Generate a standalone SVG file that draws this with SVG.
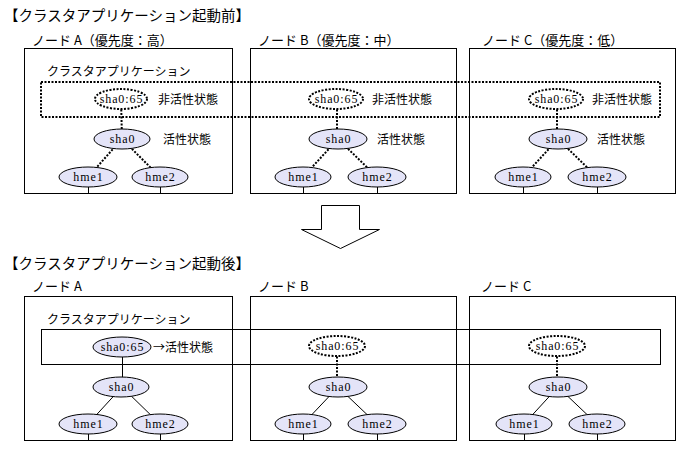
<svg xmlns="http://www.w3.org/2000/svg" width="683" height="449" viewBox="0 0 683 449">
<style>
.bg{fill:#ffffff}
.box{fill:none;stroke:#000;stroke-width:1}
.clusterD{fill:none;stroke:#000;stroke-width:2;stroke-dasharray:2 1.5}
.clusterS{fill:none;stroke:#000;stroke-width:1}
.ell{fill:#e4e4f8;stroke:#000;stroke-width:1}
.ellD{fill:#ffffff;stroke:#000;stroke-width:2;stroke-dasharray:2 1.5}
.ln{stroke:#000;stroke-width:1;fill:none}
.lnD{stroke:#000;stroke-width:2;stroke-dasharray:2 1.5;fill:none}
.jp{font-family:"Noto Sans CJK JP","Noto Sans",sans-serif;fill:#000}
.t14{font-size:14.5px}
.t13{font-size:13px}
.t12{font-size:12px}
.lat{font-family:"Liberation Serif","DejaVu Serif",serif;font-size:12px;fill:#000;text-anchor:middle;letter-spacing:0.9px}
.arrow{fill:#fff;stroke:#000;stroke-width:1}
</style>
<rect class="bg" x="0" y="0" width="683" height="449"/>

<!-- Titles -->
<text class="jp t14" x="4" y="21">【クラスタアプリケーション起動前】</text>
<text class="jp t14" x="4" y="269">【クラスタアプリケーション起動後】</text>

<!-- Connectors -->
<g id="connectors">
  <!-- top A -->
  <line class="lnD" x1="121" y1="99" x2="122" y2="139"/>
  <line class="lnD" x1="122" y1="139" x2="88" y2="177"/>
  <line class="lnD" x1="122" y1="139" x2="160" y2="177"/>
  <line class="ln" x1="88.5" y1="177" x2="88.5" y2="194"/>
  <line class="ln" x1="160.5" y1="177" x2="160.5" y2="194"/>
  <!-- top B -->
  <line class="lnD" x1="337" y1="99" x2="337" y2="139"/>
  <line class="lnD" x1="338" y1="139" x2="303" y2="177"/>
  <line class="lnD" x1="338" y1="139" x2="377" y2="177"/>
  <line class="ln" x1="303.5" y1="177" x2="303.5" y2="194"/>
  <line class="ln" x1="377.5" y1="177" x2="377.5" y2="194"/>
  <!-- top C -->
  <line class="lnD" x1="557" y1="99" x2="557" y2="139"/>
  <line class="lnD" x1="558" y1="139" x2="523" y2="177"/>
  <line class="lnD" x1="558" y1="139" x2="597" y2="177"/>
  <line class="ln" x1="523.5" y1="177" x2="523.5" y2="194"/>
  <line class="ln" x1="597.5" y1="177" x2="597.5" y2="194"/>
  <!-- bottom A -->
  <line class="ln" x1="122.5" y1="347" x2="122.5" y2="387"/>
  <line class="ln" x1="122" y1="387" x2="88" y2="424"/>
  <line class="ln" x1="122" y1="387" x2="160" y2="424"/>
  <line class="ln" x1="88.5" y1="424" x2="88.5" y2="441"/>
  <line class="ln" x1="160.5" y1="424" x2="160.5" y2="441"/>
  <!-- bottom B -->
  <line class="lnD" x1="337" y1="346" x2="337" y2="387"/>
  <line class="ln" x1="338" y1="387" x2="303" y2="424"/>
  <line class="ln" x1="338" y1="387" x2="377" y2="424"/>
  <line class="ln" x1="303.5" y1="424" x2="303.5" y2="441"/>
  <line class="ln" x1="377.5" y1="424" x2="377.5" y2="441"/>
  <!-- bottom C -->
  <line class="lnD" x1="557" y1="346" x2="557" y2="387"/>
  <line class="ln" x1="558" y1="387" x2="524" y2="424"/>
  <line class="ln" x1="558" y1="387" x2="597" y2="424"/>
  <line class="ln" x1="524.5" y1="424" x2="524.5" y2="441"/>
  <line class="ln" x1="597.5" y1="424" x2="597.5" y2="441"/>
</g>

<!-- Top section boxes -->
<g id="nodeA-before">
  <rect class="box" x="24.5" y="48.5" width="208" height="145"/>
  <text class="jp t13" x="32" y="45">ノード A（優先度：高）</text>
</g>
<g id="nodeB-before">
  <rect class="box" x="250.5" y="48.5" width="206" height="145"/>
  <text class="jp t13" x="258" y="45">ノード B（優先度：中）</text>
</g>
<g id="nodeC-before">
  <rect class="box" x="469.5" y="48.5" width="206" height="145"/>
  <text class="jp t13" x="482" y="45">ノード C（優先度：低）</text>
</g>
<g id="cluster-before">
  <rect class="clusterD" x="41" y="82" width="619" height="35"/>
  <text class="jp t12" x="47" y="76">クラスタアプリケーション</text>
</g>

<!-- Top ellipses A -->
<g id="A1-sha065"><ellipse class="ellD" cx="121" cy="99" rx="26" ry="10"/><text class="lat" x="121.5" y="103">sha0:65</text></g>
<text class="jp t12" x="158" y="104">非活性状態</text>
<g id="A1-sha0"><ellipse class="ell" cx="122" cy="139" rx="28" ry="10"/><text class="lat" x="122.5" y="143">sha0</text></g>
<text class="jp t12" x="163" y="144">活性状態</text>
<g id="A1-hme1"><ellipse class="ell" cx="88" cy="177" rx="29" ry="10"/><text class="lat" x="88.5" y="181">hme1</text></g>
<g id="A1-hme2"><ellipse class="ell" cx="160" cy="177" rx="28" ry="10"/><text class="lat" x="160.5" y="181">hme2</text></g>

<!-- Top ellipses B -->
<g id="B1-sha065"><ellipse class="ellD" cx="336" cy="99" rx="27" ry="10"/><text class="lat" x="336.5" y="103">sha0:65</text></g>
<text class="jp t12" x="372" y="104">非活性状態</text>
<g id="B1-sha0"><ellipse class="ell" cx="338" cy="139" rx="29" ry="10"/><text class="lat" x="338.5" y="143">sha0</text></g>
<text class="jp t12" x="377" y="144">活性状態</text>
<g id="B1-hme1"><ellipse class="ell" cx="303" cy="177" rx="28" ry="10"/><text class="lat" x="303.5" y="181">hme1</text></g>
<g id="B1-hme2"><ellipse class="ell" cx="377" cy="177" rx="29" ry="10"/><text class="lat" x="377.5" y="181">hme2</text></g>

<!-- Top ellipses C -->
<g id="C1-sha065"><ellipse class="ellD" cx="556" cy="99" rx="27" ry="10"/><text class="lat" x="556.5" y="103">sha0:65</text></g>
<text class="jp t12" x="592" y="104">非活性状態</text>
<g id="C1-sha0"><ellipse class="ell" cx="558" cy="139" rx="29" ry="10"/><text class="lat" x="558.5" y="143">sha0</text></g>
<text class="jp t12" x="597" y="144">活性状態</text>
<g id="C1-hme1"><ellipse class="ell" cx="523" cy="177" rx="28" ry="10"/><text class="lat" x="523.5" y="181">hme1</text></g>
<g id="C1-hme2"><ellipse class="ell" cx="597" cy="177" rx="29" ry="10"/><text class="lat" x="597.5" y="181">hme2</text></g>

<!-- Transition arrow -->
<g id="transition-arrow">
  <polygon class="arrow" points="321.5,205.5 359.5,205.5 359.5,229.5 379.5,229.5 340.5,248.5 301.5,229.5 321.5,229.5"/>
</g>

<!-- Bottom section boxes -->
<g id="nodeA-after">
  <rect class="box" x="24.5" y="296.5" width="208" height="144"/>
  <text class="jp t13" x="32" y="291">ノード A</text>
</g>
<g id="nodeB-after">
  <rect class="box" x="250.5" y="296.5" width="206" height="144"/>
  <text class="jp t13" x="258" y="291">ノード B</text>
</g>
<g id="nodeC-after">
  <rect class="box" x="469.5" y="296.5" width="206" height="144"/>
  <text class="jp t13" x="481" y="291">ノード C</text>
</g>
<g id="cluster-after">
  <rect class="clusterS" x="41.5" y="329.5" width="619" height="35"/>
  <text class="jp t12" x="47" y="324">クラスタアプリケーション</text>
</g>

<!-- Bottom ellipses A -->
<g id="A2-sha065"><ellipse class="ell" cx="122" cy="347" rx="29" ry="10"/><text class="lat" x="122.5" y="351">sha0:65</text></g>
<text class="jp t12" x="153" y="352">→活性状態</text>
<g id="A2-sha0"><ellipse class="ell" cx="121" cy="387" rx="28" ry="10"/><text class="lat" x="121.5" y="391">sha0</text></g>
<g id="A2-hme1"><ellipse class="ell" cx="88" cy="424" rx="29" ry="10"/><text class="lat" x="88.5" y="428">hme1</text></g>
<g id="A2-hme2"><ellipse class="ell" cx="160" cy="424" rx="28" ry="10"/><text class="lat" x="160.5" y="428">hme2</text></g>

<!-- Bottom ellipses B -->
<g id="B2-sha065"><ellipse class="ellD" cx="337" cy="346" rx="28" ry="10"/><text class="lat" x="337.5" y="350">sha0:65</text></g>
<g id="B2-sha0"><ellipse class="ell" cx="338" cy="387" rx="29" ry="10"/><text class="lat" x="338.5" y="391">sha0</text></g>
<g id="B2-hme1"><ellipse class="ell" cx="303" cy="424" rx="28" ry="10"/><text class="lat" x="303.5" y="428">hme1</text></g>
<g id="B2-hme2"><ellipse class="ell" cx="377" cy="424" rx="29" ry="10"/><text class="lat" x="377.5" y="428">hme2</text></g>

<!-- Bottom ellipses C -->
<g id="C2-sha065"><ellipse class="ellD" cx="557" cy="346" rx="28" ry="10"/><text class="lat" x="557.5" y="350">sha0:65</text></g>
<g id="C2-sha0"><ellipse class="ell" cx="558" cy="387" rx="29" ry="10"/><text class="lat" x="558.5" y="391">sha0</text></g>
<g id="C2-hme1"><ellipse class="ell" cx="524" cy="424" rx="28" ry="10"/><text class="lat" x="524.5" y="428">hme1</text></g>
<g id="C2-hme2"><ellipse class="ell" cx="597" cy="424" rx="28" ry="10"/><text class="lat" x="597.5" y="428">hme2</text></g>
</svg>
